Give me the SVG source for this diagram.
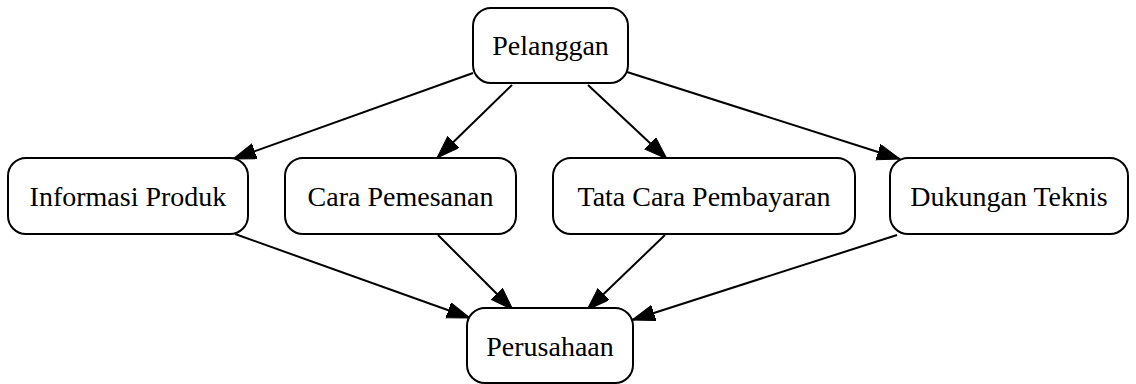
<svg xmlns="http://www.w3.org/2000/svg" width="1136" height="384" viewBox="0 0 1136 384">
<style>
.node rect{fill:#fff;stroke:#000;stroke-width:2}
.node text{font-family:"Liberation Serif","Times New Roman",serif;font-size:28px;fill:#000;text-anchor:middle}
.edges line{stroke:#000;stroke-width:2;marker-end:url(#arr)}
</style>
<defs>
<marker id="arr" markerUnits="userSpaceOnUse" markerWidth="26" markerHeight="20" refX="23" refY="8" orient="auto" viewBox="0 0 26 20">
<path d="M0,0 L23,8 L0,16 z" fill="#000" stroke="#000" stroke-width="1"/>
</marker>
</defs>
<rect width="1136" height="384" fill="#fff"/>
<g class="edges" id="edges">
<line x1="473" y1="73" x2="233" y2="159"/>
<line x1="512" y1="85" x2="437" y2="158"/>
<line x1="588" y1="85" x2="667" y2="159"/>
<line x1="627" y1="72" x2="900" y2="159"/>
<line x1="235" y1="234" x2="470" y2="318"/>
<line x1="438" y1="235" x2="513" y2="310"/>
<line x1="665" y1="235" x2="587" y2="310"/>
<line x1="897" y1="235" x2="632" y2="320"/>
</g>
<g class="node" id="pelanggan"><rect x="473" y="8" width="155" height="75" rx="18"/><text x="550.5" y="55">Pelanggan</text></g>
<g class="node" id="informasi"><rect x="8" y="158" width="240" height="76" rx="18"/><text x="128" y="206">Informasi Produk</text></g>
<g class="node" id="cara"><rect x="285" y="158" width="231" height="76" rx="18"/><text x="400.5" y="206">Cara Pemesanan</text></g>
<g class="node" id="tata"><rect x="553" y="158" width="302" height="76" rx="18"/><text x="704" y="206">Tata Cara Pembayaran</text></g>
<g class="node" id="dukungan"><rect x="890" y="158" width="238" height="76" rx="18"/><text x="1009" y="206">Dukungan Teknis</text></g>
<g class="node" id="perusahaan"><rect x="467" y="308" width="166" height="75" rx="18"/><text x="550" y="356">Perusahaan</text></g>
</svg>
